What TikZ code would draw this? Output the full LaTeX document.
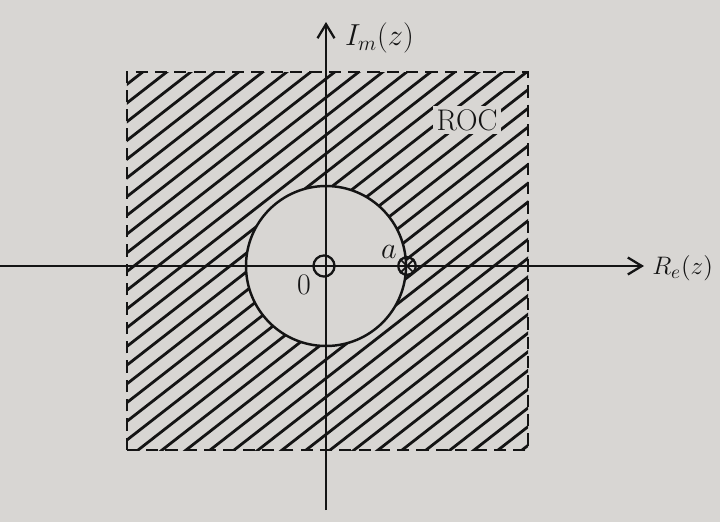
\documentclass[tikz,border=0pt]{standalone}
\usepackage{xcolor}
\usepackage{tikz}
\usetikzlibrary{arrows.meta, positioning}
\definecolor{paper}{HTML}{D8D6D3}
\definecolor{ink}{HTML}{141414}
\tikzset{
  axis/.style={-{Straight Barb[length=2.8mm, width=3.4mm, line width=1.3pt]}, line width=1.2pt, ink},
  hatch/.style={line width=1.6pt, ink},
  roc/.style={draw=ink, line width=1.5pt, dash pattern=on 7pt off 4pt},
  lbl/.style={font=\fontsize{17}{20}\selectfont, text=ink, inner sep=1pt},
  mark/.style={circle, draw=ink, line width=1.3pt, minimum size=#1, inner sep=0pt},
}

\begin{document}
\begin{tikzpicture}[x=0.02cm, y=0.02cm]
\fill[paper] (-326,-256) rectangle (394,266);
\useasboundingbox (-326,-256) rectangle (394,266);

% hatched region outside the circle
\begin{scope}
\clip (-199,-184) rectangle (202,194);
\foreach \c in {-456,-432,...,456}
  \draw[hatch] (\c-300,-234) -- (\c+300,234);
\end{scope}
\fill[paper] (0,0) circle (80);
\draw[roc] (-199,-184) rectangle (202,194);
\draw[ink, line width=1.4pt] (0,0) circle (80);

% axes
\coordinate (xl) at (-326,0);
\coordinate (xr) at (318,0);
\coordinate (yb) at (0,-244);
\coordinate (yt) at (0,244);
\draw[axis] (xl) -- (xr);
\draw[axis] (yb) -- (yt);
\node[lbl, anchor=west, font=\fontsize{15}{18}\selectfont, inner sep=0pt] (re) at (326,-2) {$R_e(z)$};
\node[lbl, anchor=west] (im) at (17,228) {$I_m(z)$};

% origin and point a
\node[mark=12pt] (o) at (-2,0) {};
\node[lbl] (zero) at (-22,-19) {0};
\node[mark=10pt] (pa) at (81,0) {};
\draw[ink, line width=1pt] (pa.north west) -- (pa.south east) (pa.north east) -- (pa.south west);
\node[lbl] (a) at (63,14) {$a$};
\node[lbl, fill=paper, inner sep=2pt] (roclbl) at (141,146) {ROC};
\end{tikzpicture}
\end{document}
